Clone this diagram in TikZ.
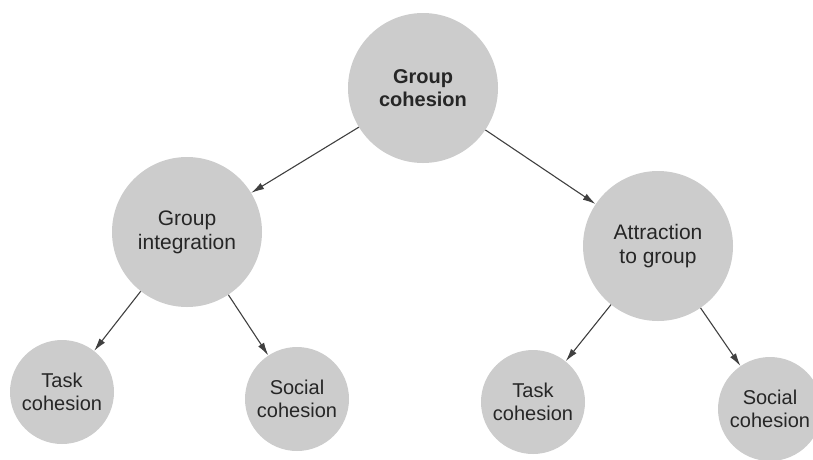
\documentclass[tikz,border=0pt]{standalone}
\usepackage{fontspec}
\setmainfont{Liberation Sans}
\usetikzlibrary{arrows.meta}

\begin{document}
\begin{tikzpicture}[x=1pt,y=-1pt,
  >={Latex[length=13pt,width=7pt]},
  bubble/.style={circle,fill=gray!40,text=black!85,inner sep=0pt,align=center,font=\fontsize{20}{23}\selectfont},
  big/.style={bubble,minimum size=150pt,font=\fontsize{21}{24}\selectfont},
  small/.style={bubble,minimum size=104pt},
  link/.style={->,draw=black!75,line width=1.1pt}]
  \useasboundingbox (0,0) rectangle (813,459);
  \node[big,font=\fontsize{20}{23}\selectfont\bfseries] (top) at (423,88) {Group\\cohesion};
  \node[big] (integ) at (187,232) {Group\\integration};
  \node[big] (attract) at (658,246) {Attraction\\to group};
  \node[small] (taskL) at (62,392) {Task\\cohesion};
  \node[small] (socialL) at (297,399) {Social\\cohesion};
  \node[small] (taskR) at (533,402) {Task\\cohesion};
  \node[small] (socialR) at (770,409) {Social\\cohesion};
  \draw[link] (top) -- (integ);
  \draw[link] (top) -- (attract);
  \draw[link] (integ) -- (taskL);
  \draw[link] (integ) -- (socialL);
  \draw[link] (attract) -- (taskR);
  \draw[link] (attract) -- (socialR);
\end{tikzpicture}
\end{document}
